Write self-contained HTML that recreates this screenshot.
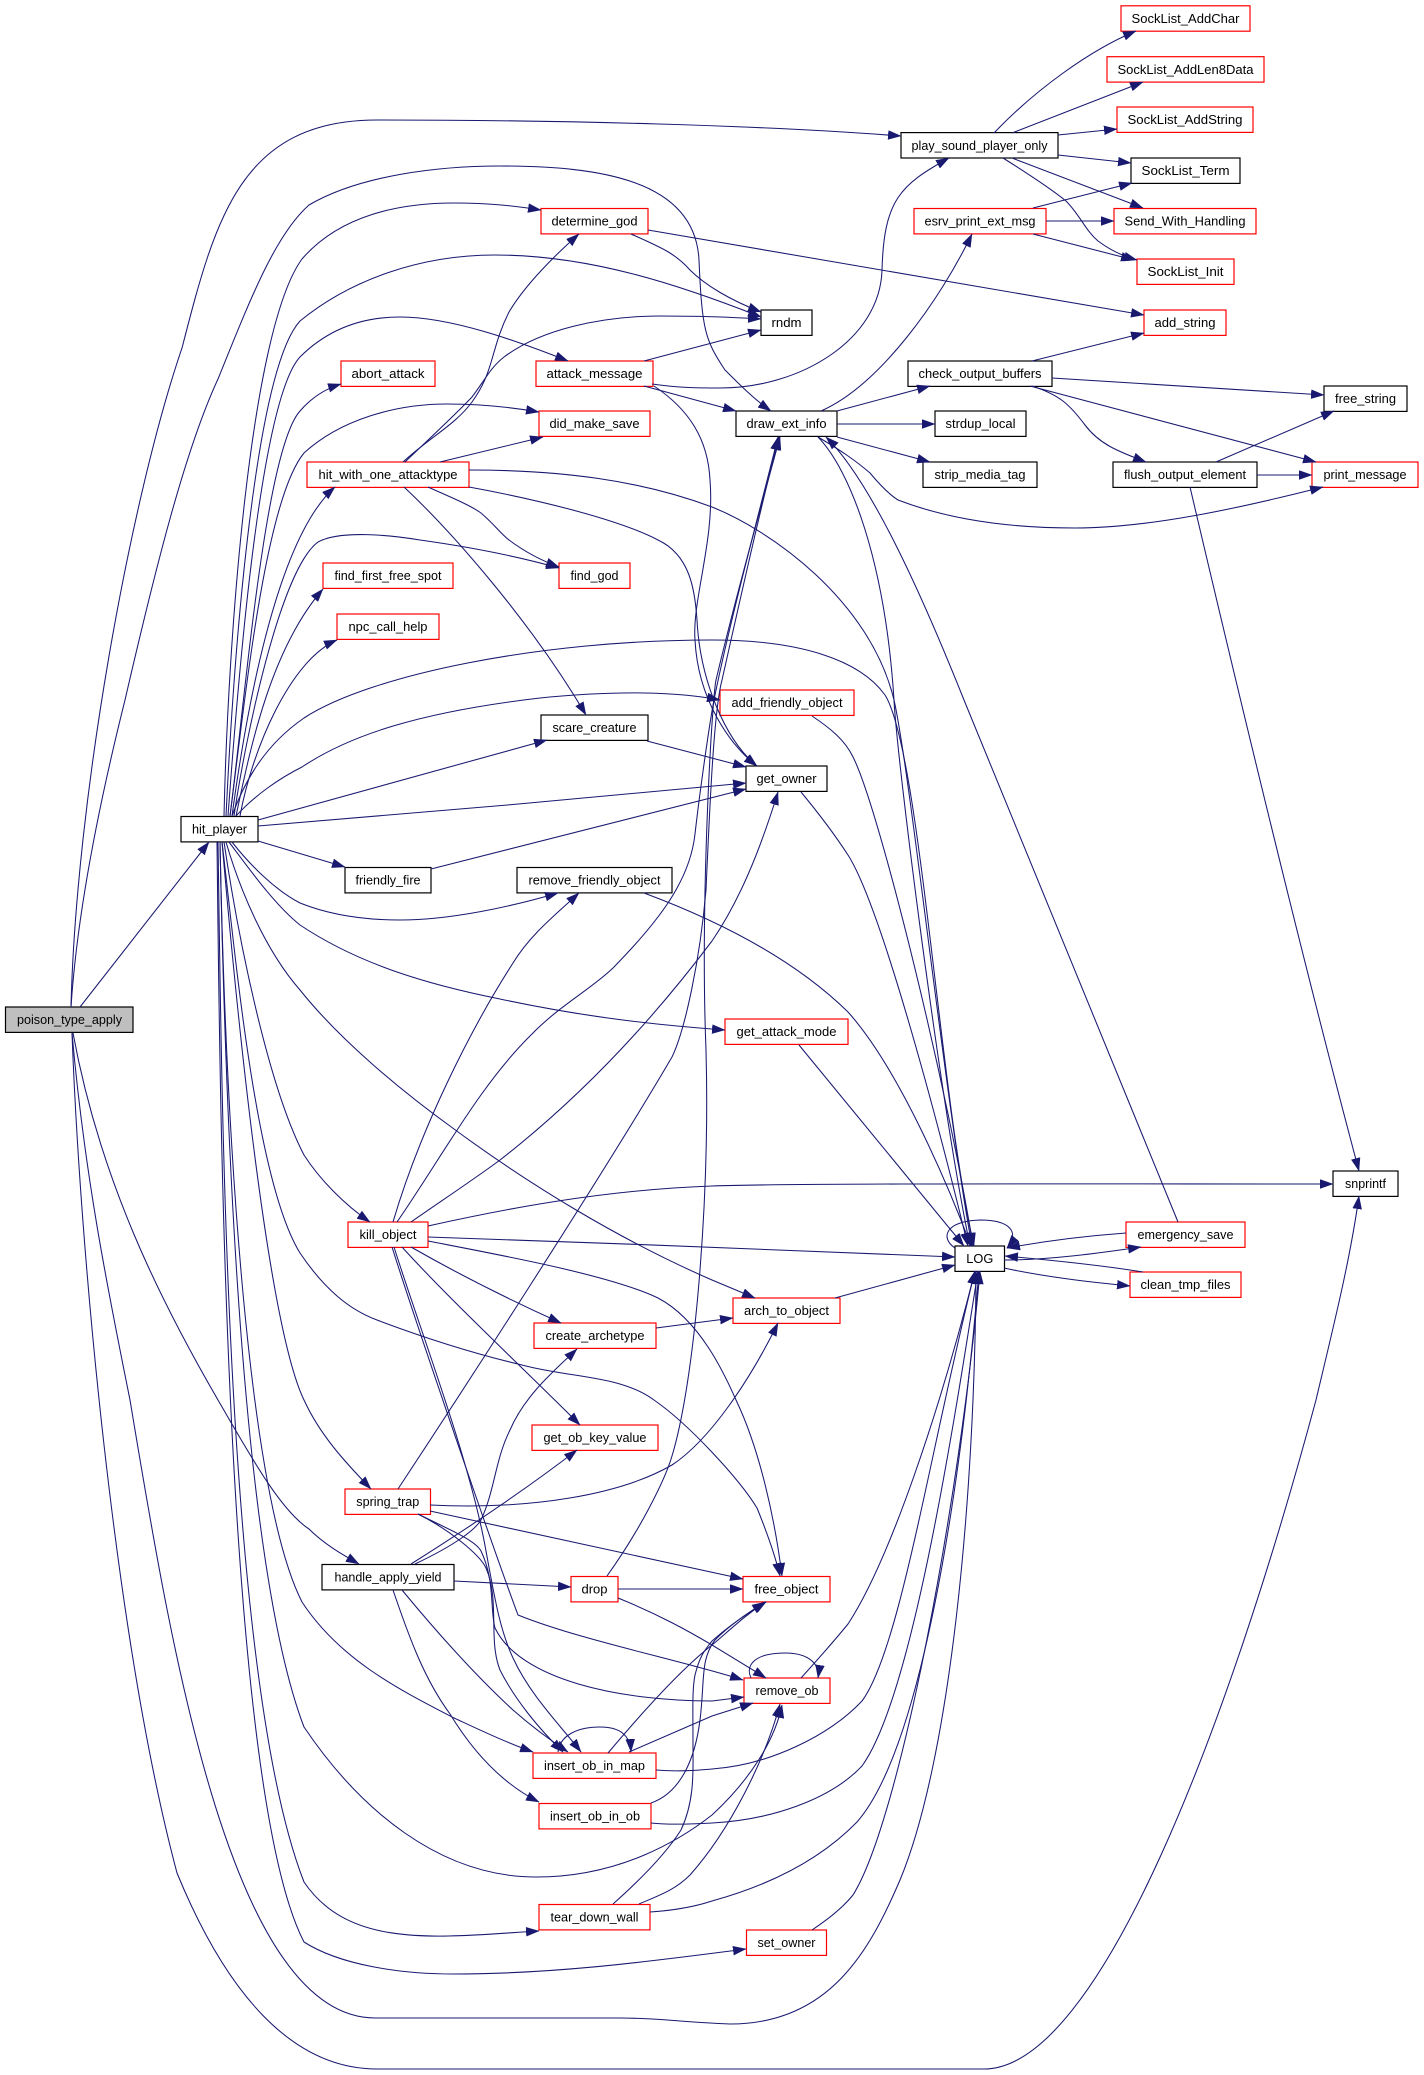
<!DOCTYPE html>
<html><head><meta charset="utf-8"><title>poison_type_apply</title>
<style>html,body{margin:0;padding:0;background:#fff}svg{display:block}
text{font-family:"Liberation Sans",sans-serif;font-size:13.3px;fill:#000;text-anchor:middle}
.b{fill:#fff;stroke:#000;stroke-width:1.2}.r{fill:#fff;stroke:#f00;stroke-width:1.2}
path{fill:none;stroke:#191970;stroke-width:1.05}</style></head><body>
<svg width="1424" height="2075" viewBox="0 0 1424 2075" xmlns="http://www.w3.org/2000/svg">
<defs><marker id="a" markerUnits="userSpaceOnUse" markerWidth="13.5" markerHeight="9.5" refX="13" refY="4.75" orient="auto"><polygon points="0,0 13.5,4.75 0,9.5" fill="#191970"/></marker></defs>
<g>
<rect class="r" x="1121" y="5.8" width="129" height="25.4"/><text x="1185.5" y="23" textLength="108" lengthAdjust="spacingAndGlyphs">SockList_AddChar</text>
<rect class="r" x="1107" y="56.7" width="157" height="25.4"/><text x="1185.5" y="73.9" textLength="136" lengthAdjust="spacingAndGlyphs">SockList_AddLen8Data</text>
<rect class="r" x="1117" y="107" width="136" height="25.4"/><text x="1185" y="124.2" textLength="115" lengthAdjust="spacingAndGlyphs">SockList_AddString</text>
<rect class="b" x="901" y="132.6" width="157" height="25.4"/><text x="979.5" y="149.8" textLength="136" lengthAdjust="spacingAndGlyphs">play_sound_player_only</text>
<rect class="b" x="1131" y="158" width="109" height="25.4"/><text x="1185.5" y="175.2" textLength="88" lengthAdjust="spacingAndGlyphs">SockList_Term</text>
<rect class="r" x="541" y="208.5" width="107" height="25.4"/><text x="594.5" y="225.7" textLength="86" lengthAdjust="spacingAndGlyphs">determine_god</text>
<rect class="r" x="914" y="208.5" width="132" height="25.4"/><text x="980" y="225.7" textLength="111" lengthAdjust="spacingAndGlyphs">esrv_print_ext_msg</text>
<rect class="r" x="1114" y="208.5" width="142" height="25.4"/><text x="1185" y="225.7" textLength="121" lengthAdjust="spacingAndGlyphs">Send_With_Handling</text>
<rect class="r" x="1137" y="259" width="97" height="25.4"/><text x="1185.5" y="276.2" textLength="76" lengthAdjust="spacingAndGlyphs">SockList_Init</text>
<rect class="b" x="761" y="310" width="51" height="25.4"/><text x="786.5" y="327.2" textLength="30" lengthAdjust="spacingAndGlyphs">rndm</text>
<rect class="r" x="1144" y="310" width="82" height="25.4"/><text x="1185" y="327.2" textLength="61" lengthAdjust="spacingAndGlyphs">add_string</text>
<rect class="r" x="341" y="361" width="94" height="25.4"/><text x="388" y="378.2" textLength="73" lengthAdjust="spacingAndGlyphs">abort_attack</text>
<rect class="r" x="536" y="361" width="117" height="25.4"/><text x="594.5" y="378.2" textLength="96" lengthAdjust="spacingAndGlyphs">attack_message</text>
<rect class="b" x="908" y="361" width="144" height="25.4"/><text x="980" y="378.2" textLength="123" lengthAdjust="spacingAndGlyphs">check_output_buffers</text>
<rect class="b" x="1324" y="386" width="83" height="25.4"/><text x="1365.5" y="403.2" textLength="61" lengthAdjust="spacingAndGlyphs">free_string</text>
<rect class="r" x="539" y="411" width="111" height="25.4"/><text x="594.5" y="428.2" textLength="90" lengthAdjust="spacingAndGlyphs">did_make_save</text>
<rect class="b" x="736" y="411" width="101" height="25.4"/><text x="786.5" y="428.2" textLength="80" lengthAdjust="spacingAndGlyphs">draw_ext_info</text>
<rect class="b" x="935" y="411" width="91" height="25.4"/><text x="980.5" y="428.2" textLength="70" lengthAdjust="spacingAndGlyphs">strdup_local</text>
<rect class="r" x="307" y="462" width="162" height="25.4"/><text x="388" y="479.2" textLength="139" lengthAdjust="spacingAndGlyphs">hit_with_one_attacktype</text>
<rect class="b" x="923" y="462" width="114" height="25.4"/><text x="980" y="479.2" textLength="91" lengthAdjust="spacingAndGlyphs">strip_media_tag</text>
<rect class="b" x="1113" y="462" width="144" height="25.4"/><text x="1185" y="479.2" textLength="122" lengthAdjust="spacingAndGlyphs">flush_output_element</text>
<rect class="r" x="1312" y="462" width="106" height="25.4"/><text x="1365" y="479.2" textLength="83" lengthAdjust="spacingAndGlyphs">print_message</text>
<rect class="r" x="323" y="563" width="130" height="25.4"/><text x="388" y="580.2" textLength="107" lengthAdjust="spacingAndGlyphs">find_first_free_spot</text>
<rect class="r" x="559" y="563" width="71" height="25.4"/><text x="594.5" y="580.2" textLength="48" lengthAdjust="spacingAndGlyphs">find_god</text>
<rect class="r" x="337" y="614" width="102" height="25.4"/><text x="388" y="631.2" textLength="79" lengthAdjust="spacingAndGlyphs">npc_call_help</text>
<rect class="r" x="720" y="690" width="134" height="25.4"/><text x="787" y="707.2" textLength="111" lengthAdjust="spacingAndGlyphs">add_friendly_object</text>
<rect class="b" x="541" y="715" width="107" height="25.4"/><text x="594.5" y="732.2" textLength="84" lengthAdjust="spacingAndGlyphs">scare_creature</text>
<rect class="b" x="746" y="766" width="81" height="25.4"/><text x="786.5" y="783.2" textLength="60" lengthAdjust="spacingAndGlyphs">get_owner</text>
<rect class="b" x="181" y="816.5" width="77" height="25.4"/><text x="219.5" y="833.7" textLength="55" lengthAdjust="spacingAndGlyphs">hit_player</text>
<rect class="b" x="345" y="867.5" width="86" height="25.4"/><text x="388" y="884.7" textLength="65" lengthAdjust="spacingAndGlyphs">friendly_fire</text>
<rect class="b" x="517" y="867.5" width="155" height="25.4"/><text x="594.5" y="884.7" textLength="132" lengthAdjust="spacingAndGlyphs">remove_friendly_object</text>
<rect x="5.5" y="1007" width="127.5" height="25.4" fill="#bfbfbf" stroke="#000" stroke-width="1.2"/><text x="69.5" y="1024.2" textLength="105" lengthAdjust="spacingAndGlyphs">poison_type_apply</text>
<rect class="r" x="725" y="1019" width="123" height="25.4"/><text x="786.5" y="1036.2" textLength="100" lengthAdjust="spacingAndGlyphs">get_attack_mode</text>
<rect class="b" x="1333" y="1171" width="65" height="25.4"/><text x="1365.5" y="1188.2" textLength="41" lengthAdjust="spacingAndGlyphs">snprintf</text>
<rect class="r" x="348" y="1222" width="80" height="25.4"/><text x="388" y="1239.2" textLength="57" lengthAdjust="spacingAndGlyphs">kill_object</text>
<rect class="r" x="1126" y="1222" width="119" height="25.4"/><text x="1185.5" y="1239.2" textLength="96" lengthAdjust="spacingAndGlyphs">emergency_save</text>
<rect class="b" x="955" y="1246" width="49.5" height="25.4"/><text x="979.8" y="1263.2" textLength="27" lengthAdjust="spacingAndGlyphs">LOG</text>
<rect class="r" x="1130" y="1272" width="111" height="25.4"/><text x="1185.5" y="1289.2" textLength="90" lengthAdjust="spacingAndGlyphs">clean_tmp_files</text>
<rect class="r" x="733" y="1298" width="107" height="25.4"/><text x="786.5" y="1315.2" textLength="85" lengthAdjust="spacingAndGlyphs">arch_to_object</text>
<rect class="r" x="534" y="1323" width="122" height="25.4"/><text x="595" y="1340.2" textLength="99" lengthAdjust="spacingAndGlyphs">create_archetype</text>
<rect class="r" x="532" y="1425" width="126" height="25.4"/><text x="595" y="1442.2" textLength="103" lengthAdjust="spacingAndGlyphs">get_ob_key_value</text>
<rect class="r" x="345" y="1489" width="85.5" height="25.4"/><text x="387.8" y="1506.2" textLength="63" lengthAdjust="spacingAndGlyphs">spring_trap</text>
<rect class="b" x="322" y="1564.5" width="132" height="25.4"/><text x="388" y="1581.7" textLength="107" lengthAdjust="spacingAndGlyphs">handle_apply_yield</text>
<rect class="r" x="571" y="1576.5" width="47" height="25.4"/><text x="594.5" y="1593.7" textLength="26" lengthAdjust="spacingAndGlyphs">drop</text>
<rect class="r" x="743" y="1576.5" width="87" height="25.4"/><text x="786.5" y="1593.7" textLength="64" lengthAdjust="spacingAndGlyphs">free_object</text>
<rect class="r" x="744" y="1678" width="86" height="25.4"/><text x="787" y="1695.2" textLength="63" lengthAdjust="spacingAndGlyphs">remove_ob</text>
<rect class="r" x="533" y="1753" width="123" height="25.4"/><text x="594.5" y="1770.2" textLength="101" lengthAdjust="spacingAndGlyphs">insert_ob_in_map</text>
<rect class="r" x="539" y="1803.5" width="112" height="25.4"/><text x="595" y="1820.7" textLength="90" lengthAdjust="spacingAndGlyphs">insert_ob_in_ob</text>
<rect class="r" x="539" y="1904.5" width="111" height="25.4"/><text x="594.5" y="1921.7" textLength="88" lengthAdjust="spacingAndGlyphs">tear_down_wall</text>
<rect class="r" x="746.5" y="1930" width="80" height="25.4"/><text x="786.5" y="1947.2" textLength="58" lengthAdjust="spacingAndGlyphs">set_owner</text>
</g>
<g>
<path marker-end="url(#a)" d="M71,1007 C76,800 130,500 182,348 C215,220 240,120 377,120 C560,120 760,125 901,136"/>
<path marker-end="url(#a)" d="M80,1007 L209,842"/>
<path marker-end="url(#a)" d="M73,1033 C100,1180 160,1300 218,1400 C250,1455 280,1510 309,1529 C325,1545 345,1556 359,1564"/>
<path marker-end="url(#a)" d="M72,1033 C80,1250 115,1640 177,1873 C225,1990 290,2069 377,2069 L984,2069 C1100,2069 1230,1720 1316,1400 C1335,1320 1350,1260 1359,1196"/>
<path marker-end="url(#a)" d="M72,1033 C85,1180 110,1300 130,1400 C170,1640 230,2018 375,2018 L620,2018 C660,2018 680,2022 730,2024 C830,2024 870,1950 900,1880 C950,1760 975,1500 976,1271"/>
<path marker-end="url(#a)" d="M71,1007 C78,900 105,780 125,700 C155,570 185,450 218,379 C250,300 275,235 309,205 C360,175 440,166 500,166 C600,166 695,180 699,260 C702,330 705,340 725,370 C740,385 755,400 771,411"/>
<path marker-end="url(#a)" d="M224,816 C228,640 250,330 302,259 C340,215 400,203 454,203 C490,203 515,206 541,210"/>
<path marker-end="url(#a)" d="M226,816 C234,650 255,370 300,321 C350,280 420,255 495,255 C590,255 680,285 761,317"/>
<path marker-end="url(#a)" d="M228,816 C238,680 260,400 300,357 C330,327 365,317 400,317 C450,317 515,340 568,361"/>
<path marker-end="url(#a)" d="M230,816 C245,700 265,450 300,411 C312,397 325,389 341,384"/>
<path marker-end="url(#a)" d="M230,816 C245,700 265,500 304,453 C340,420 395,404 447,404 C480,404 510,407 539,412"/>
<path marker-end="url(#a)" d="M232,816 C245,720 275,540 335,487"/>
<path marker-end="url(#a)" d="M234,816 C245,740 280,570 318,542 C340,530 390,535 420,540 C470,547 520,557 559,568"/>
<path marker-end="url(#a)" d="M236,816 C250,750 270,650 323,589"/>
<path marker-end="url(#a)" d="M240,816 C252,750 290,660 337,640"/>
<path marker-end="url(#a)" d="M232,816 C245,780 265,745 304,718 C370,675 540,640 712,640 C800,640 860,660 885,695 C920,750 940,1100 974,1246"/>
<path marker-end="url(#a)" d="M236,816 C255,795 280,778 302,767 C350,735 420,712 540,698 C620,690 680,692 720,700"/>
<path marker-end="url(#a)" d="M258,820 L547,740"/>
<path marker-end="url(#a)" d="M258,826 C400,815 600,797 746,783"/>
<path marker-end="url(#a)" d="M258,841 L345,867"/>
<path marker-end="url(#a)" d="M232,842 C250,865 275,890 300,903 C335,917 370,920 400,920 C450,920 510,907 558,893"/>
<path marker-end="url(#a)" d="M229,842 C250,870 275,905 300,925 C360,965 430,985 500,999 C570,1014 640,1024 725,1030"/>
<path marker-end="url(#a)" d="M226,842 C240,890 265,950 300,990 C340,1040 400,1090 454,1129 C530,1185 620,1240 712,1280 L755,1298"/>
<path marker-end="url(#a)" d="M224,842 C240,950 270,1090 304,1155 C320,1180 345,1205 370,1222"/>
<path marker-end="url(#a)" d="M222,842 C235,950 255,1180 300,1253 C325,1290 350,1310 377,1320 C430,1340 480,1355 522,1365 C570,1378 620,1375 654,1400 C690,1425 740,1480 757,1508 C768,1535 775,1555 780,1576"/>
<path marker-end="url(#a)" d="M222,842 C240,1050 270,1330 304,1400 C320,1435 345,1462 371,1489"/>
<path marker-end="url(#a)" d="M220,842 C225,1100 245,1490 302,1602 C340,1660 400,1690 454,1718 C480,1730 505,1742 533,1752"/>
<path marker-end="url(#a)" d="M220,842 C225,1100 240,1560 304,1727 C360,1810 440,1877 536,1877 C620,1877 680,1840 712,1815 C750,1780 775,1740 782,1705"/>
<path marker-end="url(#a)" d="M218,842 C222,1100 225,1680 304,1882 C350,1950 440,1937 539,1931"/>
<path marker-end="url(#a)" d="M217,842 C220,1100 225,1790 304,1942 C340,1965 400,1974 454,1974 C560,1974 660,1960 746,1949"/>
<path marker-end="url(#a)" d="M430,1505 C530,1510 620,1495 672,1465 C710,1440 750,1380 778,1323"/>
<path marker-end="url(#a)" d="M428,1241 C500,1255 610,1275 658,1298 C700,1320 725,1375 736,1400 C760,1450 775,1520 782,1576"/>
<path marker-end="url(#a)" d="M644,361 L761,330"/>
<path marker-end="url(#a)" d="M652,384 C680,388 700,388 720,388 C800,388 880,340 882,270 C884,200 900,185 949,158"/>
<path marker-end="url(#a)" d="M644,386 L736,411"/>
<path marker-end="url(#a)" d="M654,386 C690,410 708,440 710,480 C715,540 692,600 695,640 C698,700 730,745 757,766"/>
<path marker-end="url(#a)" d="M403,462 C430,437 455,425 472,402 C495,370 490,350 509,312 C525,285 555,255 579,234"/>
<path marker-end="url(#a)" d="M405,462 C430,438 455,415 472,397 C485,380 490,368 504,357 C540,330 600,316 660,316 C700,316 730,317 761,319"/>
<path marker-end="url(#a)" d="M440,462 L543,437"/>
<path marker-end="url(#a)" d="M469,470 C560,470 640,480 712,507 C770,530 870,600 894,700 C910,770 945,1100 972,1246"/>
<path marker-end="url(#a)" d="M469,487 C540,500 620,520 658,540 C690,555 695,590 697,620 C700,680 725,740 757,766"/>
<path marker-end="url(#a)" d="M428,487 C450,497 470,505 481,513 C495,525 500,533 509,540 C525,552 540,560 559,567"/>
<path marker-end="url(#a)" d="M404,487 C450,530 530,620 586,715"/>
<path marker-end="url(#a)" d="M647,741 L746,767"/>
<path marker-end="url(#a)" d="M431,869 L746,789"/>
<path marker-end="url(#a)" d="M644,893 C730,925 800,965 848,1012 C900,1070 950,1190 971,1246"/>
<path marker-end="url(#a)" d="M393,1222 C420,1130 470,1030 513,963 C530,935 555,915 579,893"/>
<path marker-end="url(#a)" d="M397,1222 C440,1160 480,1085 531,1035 C560,1005 590,990 613,968 C660,920 690,880 695,834 C700,790 710,720 714,700 C730,620 760,510 778,437"/>
<path marker-end="url(#a)" d="M411,1222 C450,1195 480,1175 500,1160 C590,1090 660,1010 712,941 C740,900 760,850 778,792"/>
<path marker-end="url(#a)" d="M428,1226 C500,1210 600,1190 712,1186 C800,1183 1100,1184 1333,1184"/>
<path marker-end="url(#a)" d="M428,1237 C600,1243 800,1250 955,1257"/>
<path marker-end="url(#a)" d="M411,1247 C460,1275 510,1300 561,1323"/>
<path marker-end="url(#a)" d="M402,1247 C450,1300 520,1365 580,1425"/>
<path marker-end="url(#a)" d="M394,1247 C420,1330 470,1460 486,1551 C495,1600 500,1630 513,1658 C530,1695 560,1725 581,1752"/>
<path marker-end="url(#a)" d="M392,1247 C415,1320 490,1540 518,1615 C580,1640 680,1660 743,1680"/>
<path marker-end="url(#a)" d="M656,1328 L733,1318"/>
<path marker-end="url(#a)" d="M835,1298 L955,1265"/>
<path marker-end="url(#a)" d="M799,1045 L964,1246"/>
<path marker-end="url(#a)" d="M801,792 C820,815 835,835 848,855 C880,905 935,1110 968,1246"/>
<path marker-end="url(#a)" d="M812,716 C830,728 845,740 853,757 C880,810 950,1100 973,1246"/>
<path marker-end="url(#a)" d="M1178,1222 L964,700 C920,590 870,480 826,437"/>
<path marker-end="url(#a)" d="M818,437 C850,470 885,560 894,700 C897,760 940,1100 970,1246"/>
<path marker-end="url(#a)" d="M818,437 C840,450 855,460 870,473 C880,485 890,495 898,500 C950,520 1010,528 1075,528 C1150,528 1240,508 1323,487"/>
<path marker-end="url(#a)" d="M821,411 C880,385 940,300 972,234"/>
<path marker-end="url(#a)" d="M837,411 L930,386"/>
<path marker-end="url(#a)" d="M837,424 L935,424"/>
<path marker-end="url(#a)" d="M837,437 L930,462"/>
<path marker-end="url(#a)" d="M398,1489 C450,1410 600,1180 672,1057 C685,1030 700,960 706,890 C710,800 714,710 722,680 C740,600 760,510 779,437"/>
<path marker-end="url(#a)" d="M607,1576 C640,1530 665,1480 672,1456 C695,1380 710,1200 706,1050 C700,900 712,700 716,680 C735,600 760,510 780,437"/>
<path marker-end="url(#a)" d="M618,1589 L743,1589"/>
<path marker-end="url(#a)" d="M618,1598 C660,1615 690,1632 712,1645 L766,1678"/>
<path marker-end="url(#a)" d="M430,1511 L743,1579"/>
<path marker-end="url(#a)" d="M418,1514 C450,1530 480,1555 486,1568 C500,1600 488,1640 500,1670 C515,1700 540,1730 563,1752"/>
<path marker-end="url(#a)" d="M418,1514 C450,1530 475,1540 481,1551 C495,1580 490,1610 495,1628 C520,1680 620,1701 712,1701 L744,1697"/>
<path marker-end="url(#a)" d="M415,1564 C455,1545 475,1530 481,1520 C495,1490 495,1460 510,1430 C525,1395 555,1370 577,1349"/>
<path marker-end="url(#a)" d="M411,1564 C465,1530 525,1490 577,1450"/>
<path marker-end="url(#a)" d="M454,1581 L571,1587"/>
<path marker-end="url(#a)" d="M402,1590 C435,1630 475,1675 513,1710 C530,1725 550,1740 568,1752"/>
<path marker-end="url(#a)" d="M393,1590 C410,1640 425,1680 450,1714 C475,1755 505,1785 539,1802"/>
<path marker-end="url(#a)" d="M558,1752 C560,1735 578,1727 600,1727 C620,1727 630,1735 631,1752"/>
<path marker-end="url(#a)" d="M608,1753 C640,1715 680,1670 712,1645 C730,1630 745,1615 766,1602"/>
<path marker-end="url(#a)" d="M629,1752 L712,1716 L753,1703"/>
<path marker-end="url(#a)" d="M656,1770 C680,1772 700,1770 712,1769 C770,1765 830,1735 862,1701 C900,1650 930,1450 975,1271"/>
<path marker-end="url(#a)" d="M651,1823 C670,1825 690,1824 712,1823 C770,1820 830,1800 862,1766 C910,1700 950,1450 978,1271"/>
<path marker-end="url(#a)" d="M651,1803 C680,1793 695,1760 700,1720 C705,1680 700,1660 715,1640 C730,1625 745,1615 765,1602"/>
<path marker-end="url(#a)" d="M613,1904 C640,1880 665,1855 681,1830 C695,1800 693,1770 693,1744 C693,1710 692,1690 695,1675 C700,1655 705,1650 712,1641 C730,1625 745,1615 766,1602"/>
<path marker-end="url(#a)" d="M639,1904 C660,1895 675,1890 690,1875 C730,1830 765,1760 780,1704"/>
<path marker-end="url(#a)" d="M650,1912 C680,1910 700,1905 712,1901 C770,1885 820,1860 857,1822 C920,1750 960,1500 979,1271"/>
<path marker-end="url(#a)" d="M812,1930 C830,1918 845,1905 853,1895 C900,1820 960,1500 980,1271"/>
<path marker-end="url(#a)" d="M751,1678 C745,1665 755,1653 785,1653 C810,1653 820,1665 818,1678"/>
<path marker-end="url(#a)" d="M801,1678 C820,1657 835,1640 848,1624 C890,1560 940,1410 975,1271"/>
<path marker-end="url(#a)" d="M955,1248 C940,1238 945,1221 980,1220 C1010,1220 1020,1232 1007,1248"/>
<path marker-end="url(#a)" d="M1004,1260 C1050,1260 1100,1253 1141,1247"/>
<path marker-end="url(#a)" d="M1126,1233 C1085,1236 1045,1241 1007,1248"/>
<path marker-end="url(#a)" d="M1004,1268 C1045,1277 1090,1282 1130,1286"/>
<path marker-end="url(#a)" d="M1143,1272 C1100,1265 1050,1260 1005,1256"/>
<path marker-end="url(#a)" d="M1032,361 L1144,333"/>
<path marker-end="url(#a)" d="M1052,378 L1324,395"/>
<path marker-end="url(#a)" d="M1030,386 L1316,462"/>
<path marker-end="url(#a)" d="M1032,386 C1060,395 1070,405 1085,425 C1100,445 1120,452 1146,462"/>
<path marker-end="url(#a)" d="M1216,462 L1334,411"/>
<path marker-end="url(#a)" d="M1257,475 L1312,475"/>
<path marker-end="url(#a)" d="M1190,487 C1240,700 1300,950 1359,1171"/>
<path marker-end="url(#a)" d="M994,133 C1035,90 1090,50 1136,31"/>
<path marker-end="url(#a)" d="M1012,133 L1143,82"/>
<path marker-end="url(#a)" d="M1058,135 L1117,129"/>
<path marker-end="url(#a)" d="M1058,155 L1131,163"/>
<path marker-end="url(#a)" d="M1012,158 L1143,208"/>
<path marker-end="url(#a)" d="M1003,158 C1030,175 1050,188 1066,201 C1080,215 1085,230 1098,241 C1110,250 1122,256 1137,260"/>
<path marker-end="url(#a)" d="M1033,208 L1132,183"/>
<path marker-end="url(#a)" d="M1046,221 L1114,221"/>
<path marker-end="url(#a)" d="M1033,234 L1134,260"/>
<path marker-end="url(#a)" d="M648,230 L1144,315"/>
<path marker-end="url(#a)" d="M631,234 C660,247 675,253 690,270 C705,285 730,300 761,312"/>
</g>
</svg></body></html>
